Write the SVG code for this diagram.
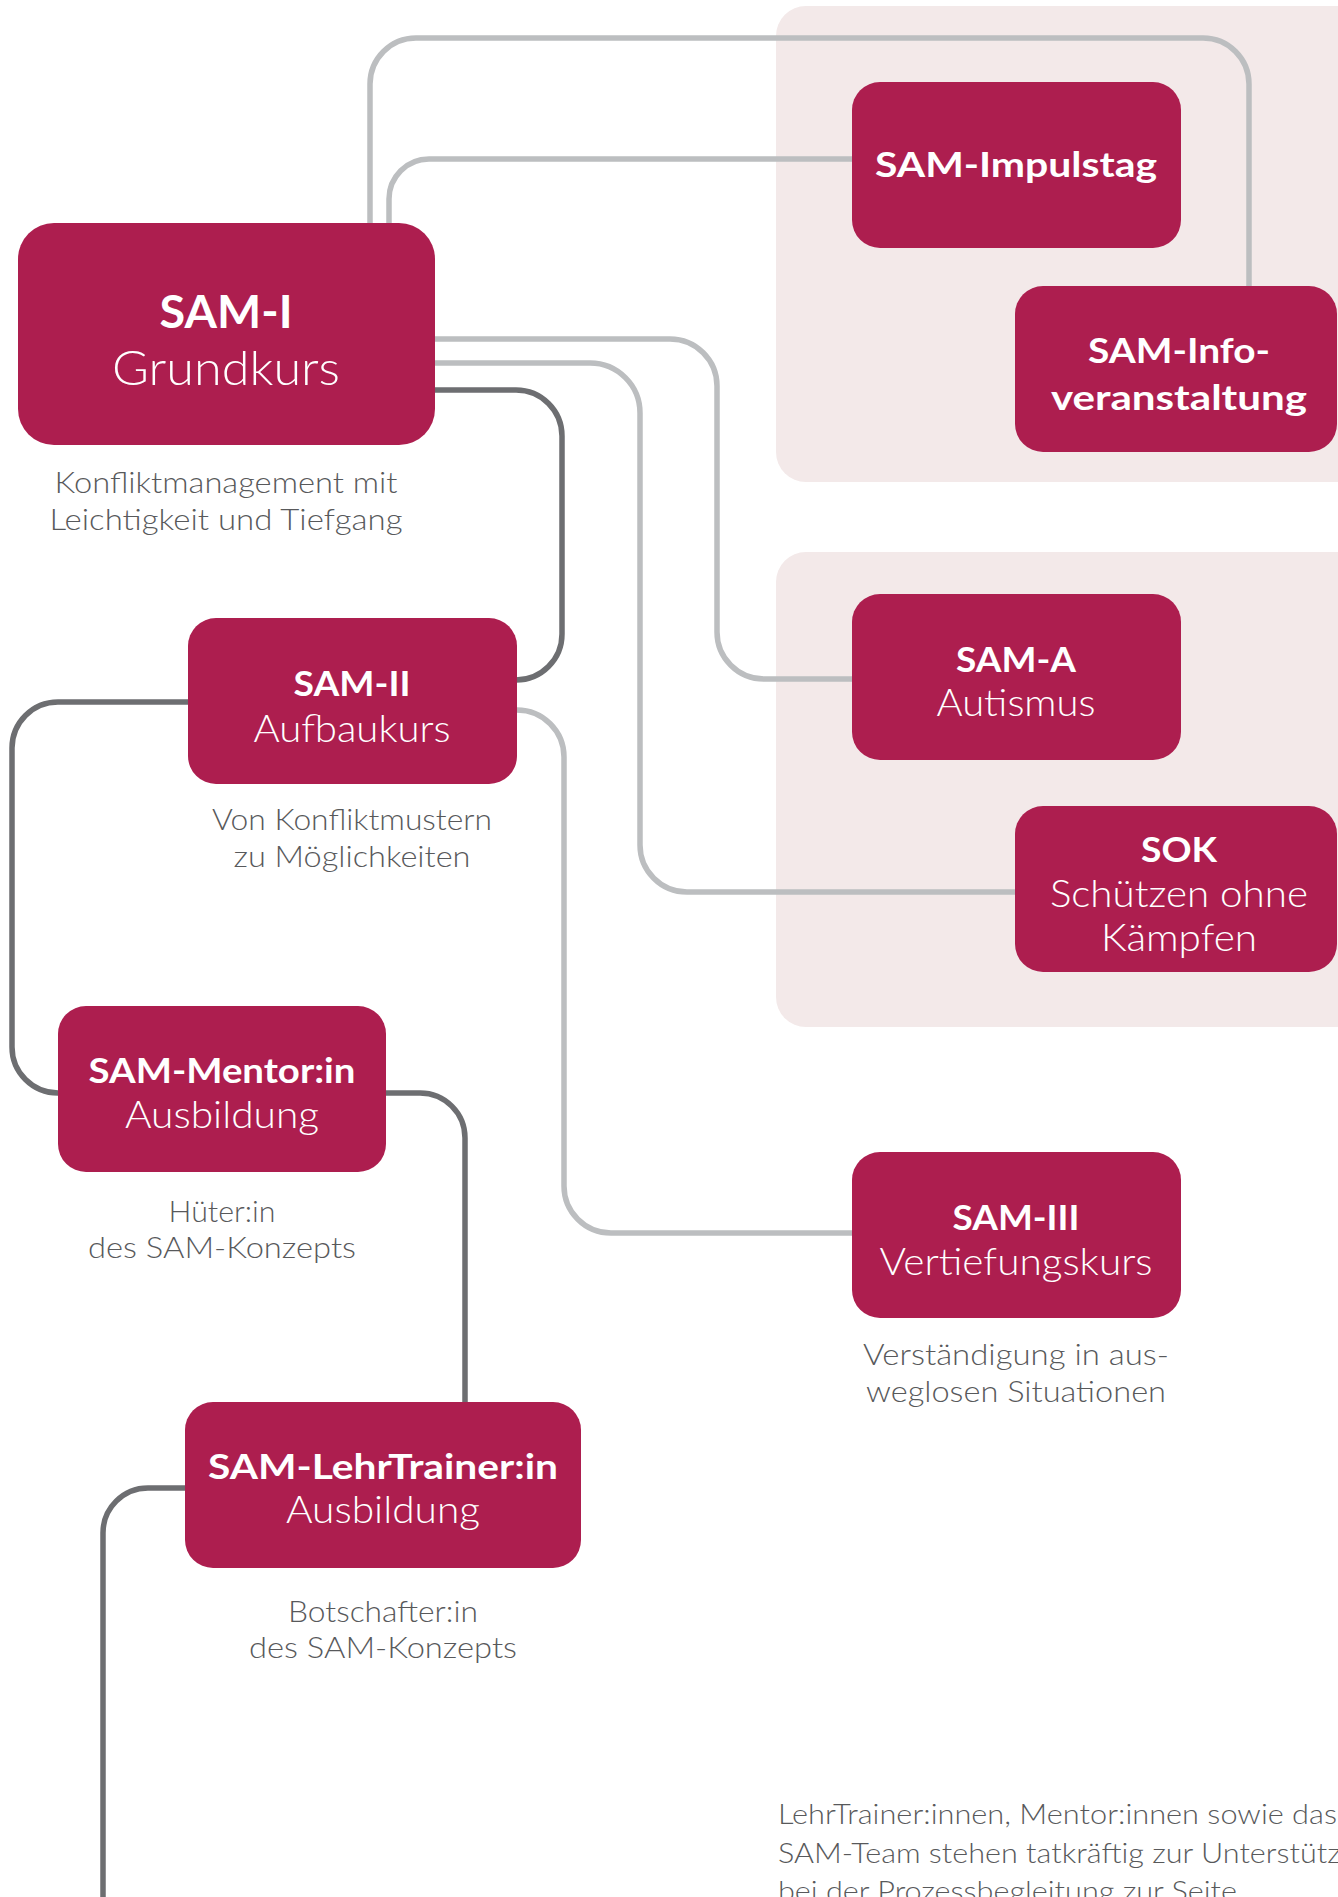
<svg xmlns="http://www.w3.org/2000/svg" width="1338" height="1897" viewBox="0 0 1338 1897">
  <style>
    .panel { fill: #f3e9e9; }
    .node { fill: #ad1e4f; }
    .lc { fill: none; stroke: #bcbec0; stroke-width: 5.5; }
    .dc { fill: none; stroke: #6d6e71; stroke-width: 5.5; }
    .h { font-family: "Lato", "Open Sans", "Liberation Sans", sans-serif; font-weight: 700; fill: #ffffff; text-anchor: middle; }
    .l { font-family: "Lato", "Open Sans", "Liberation Sans", sans-serif; font-weight: 300; fill: #ffffff; text-anchor: middle; }
    .s { font-family: "Lato", "Open Sans", "Liberation Sans", sans-serif; font-weight: 300; fill: #58595b; text-anchor: middle; font-size: 30px; }
    .p { font-family: "Lato", "Open Sans", "Liberation Sans", sans-serif; font-weight: 300; fill: #58595b; font-size: 28px; }
  </style>
  <rect width="1338" height="1897" fill="#ffffff"/>
  <g id="panels">
    <rect class="panel" x="776" y="6" width="600" height="476" rx="30"/>
    <rect class="panel" x="776" y="552" width="600" height="475" rx="30"/>
  </g>
  <g id="connectors">
    <path class="lc" d="M370,223 V84 A46,46 0 0 1 416,38 H1203 A46,46 0 0 1 1249,84 V287"/>
    <path class="lc" d="M389,223 V199 A40,40 0 0 1 429,159 H852"/>
    <path class="lc" d="M435,339 H670 A47,47 0 0 1 717,386 V632 A47,47 0 0 0 764,679 H852"/>
    <path class="lc" d="M435,363 H590 A50,50 0 0 1 640,413 V845 A47,47 0 0 0 687,892 H1015"/>
    <path class="lc" d="M517,710 A47,47 0 0 1 564,757 V1186 A47,47 0 0 0 611,1233 H852"/>
    <path class="dc" d="M435,390 H516 A46,46 0 0 1 562,436 V634 A46,46 0 0 1 516,680"/>
    <path class="dc" d="M188,702 H58 A46,46 0 0 0 12,748 V1047 A46,46 0 0 0 58,1093"/>
    <path class="dc" d="M386,1093 H420 A45,45 0 0 1 465,1138 V1402"/>
    <path class="dc" d="M185,1488 H148 A45,45 0 0 0 103,1533 V1897"/>
  </g>
  <g id="sam-i">
    <rect class="node" x="18" y="223" width="417" height="222" rx="36"/>
    <text class="h" x="226" y="328" font-size="46" textLength="133" lengthAdjust="spacingAndGlyphs">SAM-I</text>
    <text class="l" x="226" y="385" font-size="48" textLength="228" lengthAdjust="spacingAndGlyphs">Grundkurs</text>
    <text class="s" x="226" y="493" textLength="343" lengthAdjust="spacingAndGlyphs">Konfliktmanagement mit</text>
    <text class="s" x="226" y="530" textLength="353" lengthAdjust="spacingAndGlyphs">Leichtigkeit und Tiefgang</text>
  </g>
  <g id="sam-impulstag">
    <rect class="node" x="852" y="82" width="329" height="166" rx="28"/>
    <text class="h" x="1016" y="177" font-size="35" textLength="282" lengthAdjust="spacingAndGlyphs">SAM-Impulstag</text>
  </g>
  <g id="sam-info">
    <rect class="node" x="1015" y="286" width="322" height="166" rx="28"/>
    <text class="h" x="1179" y="363" font-size="35" textLength="182" lengthAdjust="spacingAndGlyphs">SAM-Info-</text>
    <text class="h" x="1179" y="410" font-size="35" textLength="256" lengthAdjust="spacingAndGlyphs">veranstaltung</text>
  </g>
  <g id="sam-ii">
    <rect class="node" x="188" y="618" width="329" height="166" rx="28"/>
    <text class="h" x="352" y="696" font-size="34" textLength="117" lengthAdjust="spacingAndGlyphs">SAM-II</text>
    <text class="l" x="352" y="742" font-size="37" textLength="197" lengthAdjust="spacingAndGlyphs">Aufbaukurs</text>
    <text class="s" x="352" y="830" textLength="280" lengthAdjust="spacingAndGlyphs">Von Konfliktmustern</text>
    <text class="s" x="352" y="867" textLength="237" lengthAdjust="spacingAndGlyphs">zu Möglichkeiten</text>
  </g>
  <g id="sam-a">
    <rect class="node" x="852" y="594" width="329" height="166" rx="28"/>
    <text class="h" x="1016" y="672" font-size="34" textLength="120" lengthAdjust="spacingAndGlyphs">SAM-A</text>
    <text class="l" x="1016" y="716" font-size="37" textLength="159" lengthAdjust="spacingAndGlyphs">Autismus</text>
  </g>
  <g id="sok">
    <rect class="node" x="1015" y="806" width="322" height="166" rx="28"/>
    <text class="h" x="1179" y="862" font-size="34" textLength="76" lengthAdjust="spacingAndGlyphs">SOK</text>
    <text class="l" x="1179" y="907" font-size="37" textLength="258" lengthAdjust="spacingAndGlyphs">Schützen ohne</text>
    <text class="l" x="1179" y="951" font-size="37" textLength="156" lengthAdjust="spacingAndGlyphs">Kämpfen</text>
  </g>
  <g id="sam-mentor">
    <rect class="node" x="58" y="1006" width="328" height="166" rx="28"/>
    <text class="h" x="222" y="1083" font-size="34" textLength="267" lengthAdjust="spacingAndGlyphs">SAM-Mentor:in</text>
    <text class="l" x="222" y="1128" font-size="37" textLength="194" lengthAdjust="spacingAndGlyphs">Ausbildung</text>
    <text class="s" x="222" y="1222" textLength="107" lengthAdjust="spacingAndGlyphs">Hüter:in</text>
    <text class="s" x="222" y="1258" textLength="268" lengthAdjust="spacingAndGlyphs">des SAM-Konzepts</text>
  </g>
  <g id="sam-iii">
    <rect class="node" x="852" y="1152" width="329" height="166" rx="28"/>
    <text class="h" x="1016" y="1230" font-size="34" textLength="127" lengthAdjust="spacingAndGlyphs">SAM-III</text>
    <text class="l" x="1016" y="1275" font-size="37" textLength="273" lengthAdjust="spacingAndGlyphs">Vertiefungskurs</text>
    <text class="s" x="1016" y="1365" textLength="306" lengthAdjust="spacingAndGlyphs">Verständigung in aus-</text>
    <text class="s" x="1016" y="1402" textLength="300" lengthAdjust="spacingAndGlyphs">weglosen Situationen</text>
  </g>
  <g id="sam-lehrtrainer">
    <rect class="node" x="185" y="1402" width="396" height="166" rx="28"/>
    <text class="h" x="383" y="1479" font-size="34" textLength="350" lengthAdjust="spacingAndGlyphs">SAM-LehrTrainer:in</text>
    <text class="l" x="383" y="1523" font-size="37" textLength="194" lengthAdjust="spacingAndGlyphs">Ausbildung</text>
    <text class="s" x="383" y="1622" textLength="190" lengthAdjust="spacingAndGlyphs">Botschafter:in</text>
    <text class="s" x="383" y="1658" textLength="268" lengthAdjust="spacingAndGlyphs">des SAM-Konzepts</text>
  </g>
  <g id="note">
    <text class="p" x="778" y="1824" textLength="559" lengthAdjust="spacingAndGlyphs">LehrTrainer:innen, Mentor:innen sowie das</text>
    <text class="p" x="778" y="1863" textLength="612" lengthAdjust="spacingAndGlyphs">SAM-Team stehen tatkräftig zur Unterstützung</text>
    <text class="p" x="778" y="1901" textLength="459" lengthAdjust="spacingAndGlyphs">bei der Prozessbegleitung zur Seite</text>
  </g>
</svg>
